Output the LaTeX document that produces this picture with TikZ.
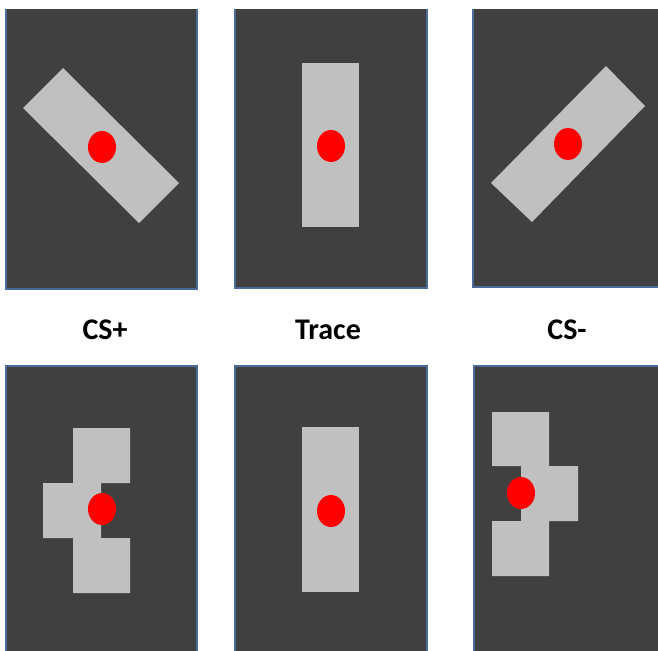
\documentclass[tikz,border=0pt]{standalone}
\usepackage{fontspec}
\setmainfont{Carlito}
\definecolor{panelgray}{HTML}{404040}
\definecolor{shapegray}{HTML}{C0C0C0}
\definecolor{edgeblue}{HTML}{4A6A9A}
\begin{document}
\begin{tikzpicture}[x=1pt,y=-1pt,
  panel/.style={fill=panelgray},
  edge/.style={draw=edgeblue,line width=2pt},
  barfill/.style={fill=shapegray},
  dot/.style={fill=red},
  lbl/.style={font=\bfseries\fontsize{30}{36}\selectfont,anchor=base,inner sep=0pt}]
\useasboundingbox (0,0) rectangle (658,650);
\clip (0,0) rectangle (658,650);
% top row panels
\fill[panel] (6,9) rectangle (197,289);
\draw[edge] (6,9) -- (6,289) -- (197,289) -- (197,9);
\fill[panel] (235,9) rectangle (427,288);
\draw[edge] (235,9) -- (235,288) -- (427,288) -- (427,9);
\fill[panel] (473,9) rectangle (662,287);
\draw[edge] (473,9) -- (473,287) -- (662,287);
% bottom row panels
\fill[panel] (6,366) rectangle (197,654);
\draw[edge] (6,654) -- (6,366) -- (197,366) -- (197,654);
\fill[panel] (235,366) rectangle (427,654);
\draw[edge] (235,654) -- (235,366) -- (427,366) -- (427,654);
\fill[panel] (474,366) rectangle (662,654);
\draw[edge] (474,654) -- (474,366) -- (662,366);
% top row shapes
\fill[barfill] (63,68) -- (179,183) -- (139,223) -- (23,108) -- cycle;
\fill[dot] (102,147) ellipse [x radius=14, y radius=16];
\fill[barfill] (302,63) rectangle (359,227);
\fill[dot] (331,146) ellipse [x radius=14, y radius=16];
\fill[barfill] (606,66) -- (645,106) -- (532,222) -- (491,183) -- cycle;
\fill[dot] (568,144) ellipse [x radius=14, y radius=16];
% bottom row shapes
\fill[barfill] (73,428) -- (130,428) -- (130,483) -- (101,483) -- (101,538) -- (130,538) -- (130,593) -- (73,593) -- (73,538) -- (43,538) -- (43,483) -- (73,483) -- cycle;
\fill[dot] (102,509) ellipse [x radius=14, y radius=16];
\fill[barfill] (302,427) rectangle (359,592);
\fill[dot] (331,511) ellipse [x radius=14, y radius=16];
\fill[barfill] (492,412) -- (549,412) -- (549,466) -- (578,466) -- (578,521) -- (549,521) -- (549,576) -- (492,576) -- (492,521) -- (521,521) -- (521,466) -- (492,466) -- cycle;
\fill[dot] (521,493) ellipse [x radius=14, y radius=16];
% labels
\node[lbl] (csplus) at (105,339) {CS+};
\node[lbl] (trace) at (328,339) {Trace};
\node[lbl] (csminus) at (567,339) {CS-};
\end{tikzpicture}
\end{document}
